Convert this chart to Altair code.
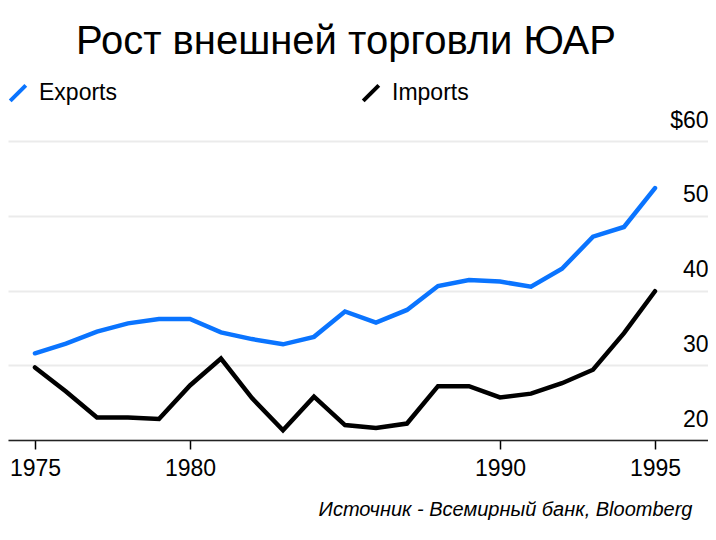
import altair as alt
import pandas as pd

years = list(range(1975, 1996))
exports = [31.6, 32.9, 34.5, 35.6, 36.2, 36.2, 34.4, 33.5, 32.8, 33.8, 37.2,
           35.7, 37.4, 40.6, 41.4, 41.2, 40.5, 42.9, 47.2, 48.5, 53.7]
imports = [29.7, 26.5, 23.0, 23.0, 22.8, 27.3, 30.9, 25.6, 21.3, 25.8, 22.0,
           21.6, 22.2, 27.2, 27.2, 25.7, 26.2, 27.6, 29.4, 34.3, 39.9]
series_names = ["Exports", "Imports"]
series_colors = ["#0a74ff", "#000000"]
x_ticks = [1975, 1980, 1990, 1995]
y_ticks = [20, 30, 40, 50, 60]

df = pd.DataFrame({
    "year": years * 2,
    "value": exports + imports,
    "series": ["Exports"] * len(years) + ["Imports"] * len(years),
})

FONT = "Liberation Sans"

chart = alt.Chart(df).mark_line(strokeWidth=4.5, strokeJoin="miter",
                                strokeCap="round").encode(
    x=alt.X("year:Q",
            scale=alt.Scale(domain=[1974.13, 1996.71], nice=False, zero=False),
            axis=alt.Axis(values=x_ticks, format="d", grid=False,
                          tickSize=9, tickColor="#000", tickWidth=1.5,
                          domainColor="#222", domainWidth=1.5,
                          labelFontSize=23, labelColor="#000", labelPadding=8,
                          labelFont=FONT,
                          title="Источник - Всемирный банк, Bloomberg",
                          titleFont=FONT, titleFontSize=20, titleFontStyle="italic",
                          titleFontWeight="normal", titleColor="#000",
                          titleAlign="right", titleAnchor="end",
                          titleX=684, titleY=75, titleBaseline="alphabetic")),
    y=alt.Y("value:Q",
            scale=alt.Scale(domain=[20, 60], nice=False, zero=False),
            axis=alt.Axis(orient="right", values=y_ticks, grid=True,
                          gridColor="#ebebeb", gridWidth=2,
                          domain=False, ticks=False,
                          labelAlign="right", labelPadding=0,
                          labelBaseline="alphabetic", labelOffset=-14,
                          labelFontSize=23, labelColor="#000", labelFont=FONT,
                          labelExpr="datum.value == 60 ? '$60' : datum.label",
                          title=None)),
    color=alt.Color("series:N",
                    scale=alt.Scale(domain=series_names, range=series_colors),
                    legend=alt.Legend(orient="none", legendX=-2, legendY=-60,
                                      direction="horizontal", title=None,
                                      symbolType="M-0.8,0.8L0.8,-0.8",
                                      symbolSize=380, symbolStrokeWidth=4,
                                      labelFontSize=23, labelFont=FONT,
                                      labelColor="#000", labelOffset=9,
                                      columnPadding=238)),
).properties(
    width=700,
    height=299,
    title=alt.TitleParams("Рост внешней торговли ЮАР", font=FONT, fontSize=40,
                          fontWeight="normal", color="#000", anchor="start",
                          dx=70, offset=19),
    padding={"left": 0, "top": 133, "right": 0, "bottom": 90},
    autosize=alt.AutoSizeParams(type="none"),
).configure_view(stroke=None)

chart.save("out.html", embed_options={"renderer": "svg", "actions": False})
